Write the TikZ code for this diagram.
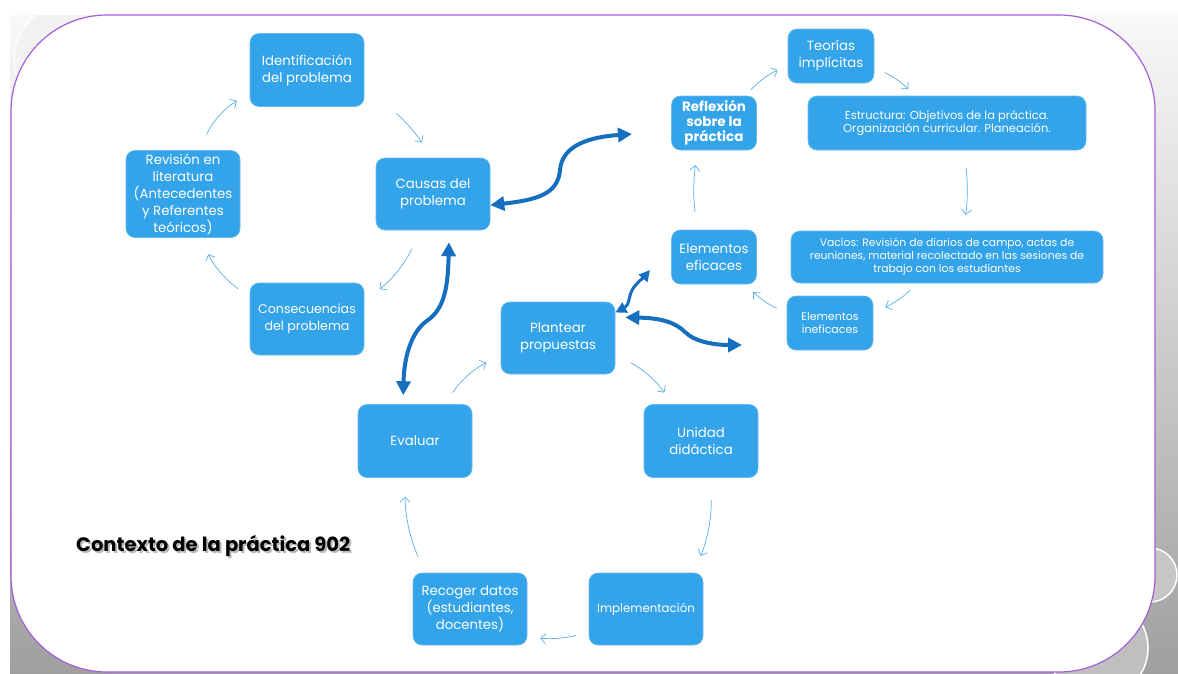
\documentclass[tikz,border=0pt]{standalone}
\usepackage{fontspec}
\setmainfont{Poppins}
\usetikzlibrary{arrows.meta}
\usetikzlibrary{positioning}

\definecolor{boxblue}{HTML}{33A3EA}
\definecolor{linkblue}{HTML}{166EBE}
\definecolor{flowblue}{HTML}{5AAFEB}
\definecolor{slidepurple}{HTML}{A35FD8}

\begin{document}
\begin{tikzpicture}[x=1pt, y=-1pt]
  \tikzset{
    box/.style={rectangle, rounded corners=9pt, fill=boxblue, draw=boxblue!75!white,
      line width=0.6pt, text=white, align=center, inner sep=2pt,
      minimum width=114pt, minimum height=73pt,
      font=\fontsize{13.3}{17}\selectfont},
    small/.style={font=\fontsize{10.8}{13}\selectfont},
    flow/.style={draw=flowblue, line width=0.7pt, -{Straight Barb[length=5pt,width=10pt]}},
    link/.style={draw=linkblue, line width=4pt,
      {Triangle[length=14pt,width=14pt]}-{Triangle[length=14pt,width=14pt]}},
  }
  \useasboundingbox (0,0) rectangle (1178,673);

  % slide background
  \shade[top color=white!95!gray, bottom color=gray!75] (10,15) rectangle (1178,673);
  \begin{scope}
    \clip (10,15) rectangle (1178,673);
    \draw[white, line width=1.2pt, fill=gray!10] (72,60) circle (58);
    \draw[white, line width=1.5pt, fill=gray!45] (1150,575) circle (27);
    \draw[white, line width=1.5pt, fill=gray!50] (1098,648) circle (50);
  \end{scope}
  \draw[slidepurple, line width=1.2pt, fill=white, rounded corners=96pt]
    (11,15) rectangle (1155,672);

  % left cycle
  \node[box] (ident) at (307,70) {Identificación\\del problema};
  \node[box, minimum height=72pt] (causes) at (433,194) {Causas del\\problema};
  \node[box, minimum height=72pt, font=\fontsize{12.6}{17}\selectfont] (conseq) at (307,319)
    {Consecuencias\\del problema};
  \node[box, minimum height=87pt] (review) at (183,194)
    {Revisión en\\literatura\\(Antecedentes\\y Referentes\\teóricos)};

  % bottom cycle
  \node[box] (evaluate) at (415,441) {Evaluar};
  \node[box, minimum height=72pt] (propose) at (558,338) {Plantear\\propuestas};
  \node[box] (unit) at (701,441) {Unidad\\didáctica};
  \node[box, minimum height=72pt, font=\fontsize{11.8}{17}\selectfont] (implement) at (646,609)
    {Implementación};
  \node[box, minimum height=72pt] (collect) at (470,609) {Recoger datos\\(estudiantes,\\docentes)};

  % right cycle
  \node[box, minimum width=85pt, minimum height=54pt,
    font=\bfseries\fontsize{13.5}{15}\selectfont] (reflect) at (714,123) {Reflexión\\sobre la\\práctica};
  \node[box, minimum width=86pt, minimum height=54pt] (theories) at (831,56) {Teorías\\implícitas};
  \node[box, minimum width=278pt, minimum height=54pt,
    font=\fontsize{11.5}{13.5}\selectfont] (structure) at (947,123)
    {Estructura: Objetivos de la práctica.\\Organización curricular. Planeación.};
  \node[box, small, minimum width=312pt, minimum height=52pt] (gaps) at (947,257)
    {Vacíos: Revisión de diarios de campo, actas de\\reuniones, material recolectado en las sesiones de\\trabajo con los estudiantes};
  \node[box, minimum width=86pt, minimum height=54pt,
    font=\fontsize{11}{13.5}\selectfont] (ineff) at (830,323) {Elementos\\ineficaces};
  \node[box, minimum width=85pt, minimum height=54pt] (eff) at (714,257) {Elementos\\eficaces};

  % thin cycle arrows
  \draw[flow, shorten <=17pt, shorten >=15pt] (review.69) to[bend left=18] (ident.202);
  \draw[flow, shorten <=36pt, shorten >=18pt] (ident.335) to[bend left=15] (causes.92);
  \draw[flow, shorten <=20pt, shorten >=19pt] (causes.250) to[bend left=15] (conseq.18);
  \draw[flow, shorten <=14pt, shorten >=18pt] (conseq.159) to[bend left=15] (review.292);
  \draw[flow, shorten <=14pt, shorten >=16pt] (evaluate.51) to[bend left=15] (propose.197);
  \draw[flow, shorten <=17pt, shorten >=14pt] (propose.343) to[bend left=15] (unit.128);
  \draw[flow, shorten <=22pt, shorten >=18pt] (unit.284) to[bend left=12] (implement.37);
  \draw[flow, shorten <=13pt, shorten >=13pt] (implement.202) to[bend left=10] (collect.334);
  \draw[flow, shorten <=17pt, shorten >=19pt] (collect.141) to[bend left=12] (evaluate.255);
  \draw[flow, shorten <=8pt, shorten >=11pt] (reflect.41) to[bend left=12] (theories.193);
  \draw[flow, shorten <=11pt, shorten >=9pt] (theories.344) to[bend left=12] (structure.140);
  \draw[flow, shorten <=18pt, shorten >=16pt] (structure.301) to[bend left=8] (gaps.58);
  \draw[flow, shorten <=10pt, shorten >=13pt] (gaps.222) to[bend left=10] (ineff.14);
  \draw[flow, shorten <=11pt, shorten >=11pt] (ineff.167) to[bend left=10] (eff.319);
  \draw[flow, shorten <=18pt, shorten >=15pt] (eff.121) to[bend left=8] (reflect.239);

  % thick double arrows
  \coordinate (reflect-in) at (632,134);
  \coordinate (eff-in) at (650,270);
  \coordinate (ineff-in) at (742,345);
  \draw[link] (causes.349) .. controls (535,200) and (558,195) .. (560,170)
    .. controls (562,145) and (590,137) .. (reflect-in);
  \draw[link, shorten <=12pt, shorten >=9pt] (causes.294) .. controls (448,285) and (445,308) .. (428,320)
    .. controls (410,332) and (404,360) .. (evaluate.108);
  \draw[link, line width=3pt, {Triangle[length=11pt,width=11pt]}-{Triangle[length=11pt,width=11pt]}]
    (propose.24) .. controls (630,305) and (628,295) .. (634,287)
    .. controls (640,280) and (645,276) .. (eff-in);
  \draw[link, shorten <=10pt] (propose.20) .. controls (660,318) and (675,322) .. (685,332)
    .. controls (695,342) and (715,345) .. (ineff-in);

  % title
  \node[font=\bfseries\fontsize{19.5}{22}\selectfont, text=gray!55, anchor=west, inner sep=0pt]
    (title-shadow) at (78,547.5) {Contexto de la práctica 902};
  \node[font=\bfseries\fontsize{19.5}{22}\selectfont, text=black, anchor=west, inner sep=0pt]
    (title) at (76,545.5) {Contexto de la práctica 902};
\end{tikzpicture}
\end{document}
